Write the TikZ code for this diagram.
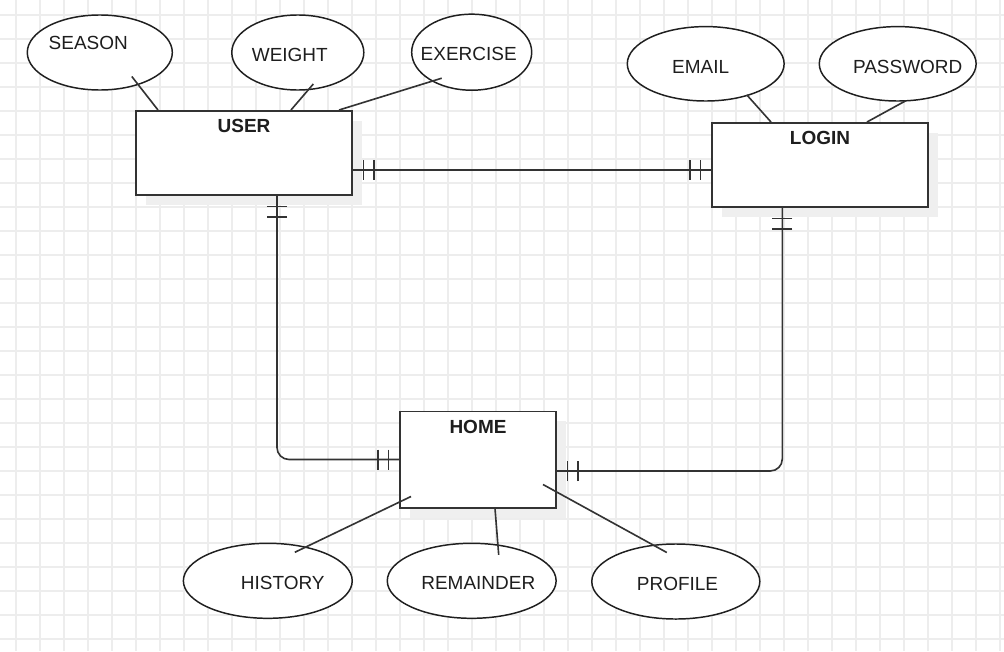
\documentclass[tikz,border=0pt]{standalone}
\usepackage{fontspec}
\setmainfont{Liberation Sans}
\usetikzlibrary{shapes,shadows,decorations.markings}

\definecolor{gridgray}{HTML}{EDEDED}
\definecolor{boxgray}{HTML}{333333}
\definecolor{shadowgray}{HTML}{EFEFEF}
\definecolor{textgray}{HTML}{1E1E1E}

\tikzset{
  gridline/.style={draw=gridgray,line width=1pt},
  entity/.style={shape=rectangle,draw=boxgray,fill=white,line width=1.4pt,inner sep=0pt,
    general shadow={fill=shadowgray,shadow xshift=0.25cm,shadow yshift=-0.25cm}},
  attr/.style={shape=ellipse,draw=black!88,fill=white,line width=1.05pt,inner sep=0pt},
  link/.style={draw=boxgray,line width=1.15pt},
  onestart/.style={postaction={decorate,decoration={markings,
    mark=at position 0.2625cm with {\draw[link] (0,-10) -- (0,10);},
    mark=at position 0.525cm with {\draw[link] (0,-10) -- (0,10);}}}},
  oneend/.style={postaction={decorate,decoration={markings,
    mark=at position -0.2625cm with {\draw[link] (0,-10) -- (0,10);},
    mark=at position -0.525cm with {\draw[link] (0,-10) -- (0,10);}}}}
}

\begin{document}
\begin{tikzpicture}[x=0.025cm,y=-0.025cm,font=\fontsize{13.5}{16}\selectfont,text=textgray]
\useasboundingbox (0,0) rectangle (1004,651);
\fill[white] (0,0) rectangle (1004,651);

% grid
\foreach \gx in {16,40,...,1000} \draw[gridline] (\gx,0) -- (\gx,651);
\foreach \gy in {15,39,...,639} \draw[gridline] (0,\gy) -- (1004,\gy);

% entities
\node[entity,minimum width=5.4cm,minimum height=2.1cm,label={[anchor=center,shift={(0,16)}]north:\textbf{USER}}] (user) at (244,153) {};
\node[entity,minimum width=5.4cm,minimum height=2.1cm,label={[anchor=center,shift={(0,16)}]north:\textbf{LOGIN}}] (login) at (820,165) {};
\node[entity,minimum width=3.9cm,minimum height=2.4cm,label={[anchor=center,shift={(0,16)}]north:\textbf{HOME}}] (home) at (478,459.5) {};

% attributes
\node[attr,minimum width=3.625cm,minimum height=1.875cm,label={[shift={(-11.5,-9.5)}]center:SEASON}] (season) at (99.8,52.5) {};
\node[attr,minimum width=3.3cm,minimum height=1.875cm,label={[shift={(-8,2.5)}]center:WEIGHT}] (weight) at (297.8,52.5) {};
\node[attr,minimum width=3cm,minimum height=1.9cm,label={[shift={(-3,2)}]center:EXERCISE}] (exercise) at (471.7,52.2) {};
\node[attr,minimum width=3.92cm,minimum height=1.86cm,label={[shift={(-5,3)}]center:EMAIL}] (email) at (705.7,63.8) {};
\node[attr,minimum width=3.92cm,minimum height=1.86cm,label={[shift={(10,3)}]center:PASSWORD}] (password) at (897.7,63.8) {};
\node[attr,minimum width=4.22cm,minimum height=1.875cm,label={[shift={(15,2.5)}]center:HISTORY}] (history) at (267.8,580.8) {};
\node[attr,minimum width=4.22cm,minimum height=1.875cm,label={[shift={(6.6,2.5)}]center:REMAINDER}] (remainder) at (471.7,580.8) {};
\node[attr,minimum width=4.2cm,minimum height=1.875cm,label={[shift={(1.7,2)}]center:PROFILE}] (profile) at (675.8,581.5) {};

% attribute lines
\draw[link] ([shift={(32,24)}]season.center) -- ([shift={(23,0)}]user.north west);
\draw[link] ([shift={(15.5,31.5)}]weight.center) -- ([shift={(156,0)}]user.north west);
\draw[link] ([shift={(-30,26)}]exercise.center) -- ([shift={(204,0)}]user.north west);
\draw[link] ([shift={(41,31)}]email.center) -- ([shift={(60,0)}]login.north west);
\draw[link] ([shift={(8,37)}]password.center) -- ([shift={(156,0)}]login.north west);
\draw[link] ([shift={(12,-12)}]home.south west) -- ([shift={(27,-28.5)}]history.center);
\draw[link] ([shift={(96,0)}]home.south west) -- ([shift={(27,-26)}]remainder.center);
\draw[link] ([shift={(144,-24)}]home.south west) -- ([shift={(-9,-29)}]profile.center);

% relationships
\draw[link,onestart,oneend] ([shift={(0,17)}]user.east) -- ([shift={(0,5)}]login.west);
\draw[link,rounded corners=0.3cm,onestart,oneend] ([shift={(33,0)}]user.south) |- (home.west);
\draw[link,rounded corners=0.3cm,onestart,oneend] ([shift={(-37.7,0)}]login.south) |- ([shift={(0,11.5)}]home.east);
\end{tikzpicture}
\end{document}
